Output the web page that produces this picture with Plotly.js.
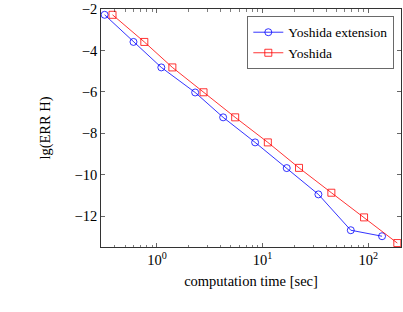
<!DOCTYPE html>
<html>
<head>
<meta charset="utf-8">
<script src="https://cdn.plot.ly/plotly-3.0.1.min.js"></script>
<style>html,body{margin:0;padding:0;background:#fff;}#chart{width:403px;height:312px;}</style>
</head>
<body>
<div id="chart"></div>
<script>
var extTime = [0.32, 0.60, 1.10, 2.30, 4.23, 8.49, 16.9, 33.7, 68.2, 134.8];
var extErr = [-2.28, -3.59, -4.82, -6.03, -7.23, -8.44, -9.68, -10.95, -12.68, -12.97];
var yosTime = [0.38, 0.76, 1.40, 2.76, 5.50, 11.2, 22.1, 44.7, 91.1, 188];
var yosErr = [-2.28, -3.59, -4.82, -6.02, -7.23, -8.44, -9.67, -10.87, -12.06, -13.30];
var seriesNames = ["Yoshida extension", "Yoshida"];
var xTickVals = [1, 10, 100];
var xTickText = ["10<sup>0</sup>", "10<sup>1</sup>", "10<sup>2</sup>"];
var yTickVals = [-2, -4, -6, -8, -10, -12];
var yTickText = ["\u22122", "\u22124", "\u22126", "\u22128", "\u221210", "\u221212"];
var minorVals = [];
[0.1, 1, 10, 100].forEach(function(d){ for (var k = 2; k <= 9; k++) minorVals.push(d * k); });

var font = "Liberation Serif, serif";
var fs = 14.5;
var traces = [
  {x: extTime, y: extErr, name: seriesNames[0], mode: "lines+markers", type: "scatter",
   line: {color: "#0000ff", width: 0.8},
   marker: {symbol: "circle-open", size: 7, color: "#0000ff", line: {width: 0.8}}},
  {x: yosTime, y: yosErr, name: seriesNames[1], mode: "lines+markers", type: "scatter",
   line: {color: "#ff0000", width: 0.8},
   marker: {symbol: "square-open", size: 7, color: "#ff0000", line: {width: 0.8}}}
];
var layout = {
  width: 403, height: 312,
  margin: {l: 101, r: 2, t: 9, b: 65},
  paper_bgcolor: "#fff", plot_bgcolor: "#fff",
  font: {family: font, size: fs, color: "#000"},
  showlegend: true,
  legend: {x: 0.975, y: 0.97, xanchor: "right", yanchor: "top",
           bordercolor: "#444", borderwidth: 0.8, bgcolor: "#fff",
           font: {family: font, size: 13.5}, tracegroupgap: 0,
           itemwidth: 30},
  xaxis: {type: "log", range: [-0.529, 2.309],
          tickmode: "array", tickvals: xTickVals, ticktext: xTickText,
          ticks: "inside", ticklen: 4, tickwidth: 0.6, tickcolor: "#000",
          showgrid: false, zeroline: false,
          showline: true, linecolor: "#000", linewidth: 0.8, mirror: "allticks",
          minor: {tickmode: "array", tickvals: minorVals, ticks: "inside", ticklen: 2.5, tickwidth: 0.5, tickcolor: "#000", showgrid: false},
          tickfont: {family: font, size: fs},
          title: {text: "computation time [sec]", font: {family: font, size: fs}, standoff: 8}},
  yaxis: {range: [-13.49, -2],
          tickmode: "array", tickvals: yTickVals, ticktext: yTickText,
          ticks: "inside", ticklen: 4, tickwidth: 0.6, tickcolor: "#000",
          showgrid: false, zeroline: false,
          showline: true, linecolor: "#000", linewidth: 0.8, mirror: "allticks",
          tickfont: {family: font, size: fs},
          title: {text: "lg(ERR H)", font: {family: font, size: fs}, standoff: 20}}
};
Plotly.newPlot("chart", traces, layout, {displayModeBar: false, staticPlot: true});
</script>
</body>
</html>
